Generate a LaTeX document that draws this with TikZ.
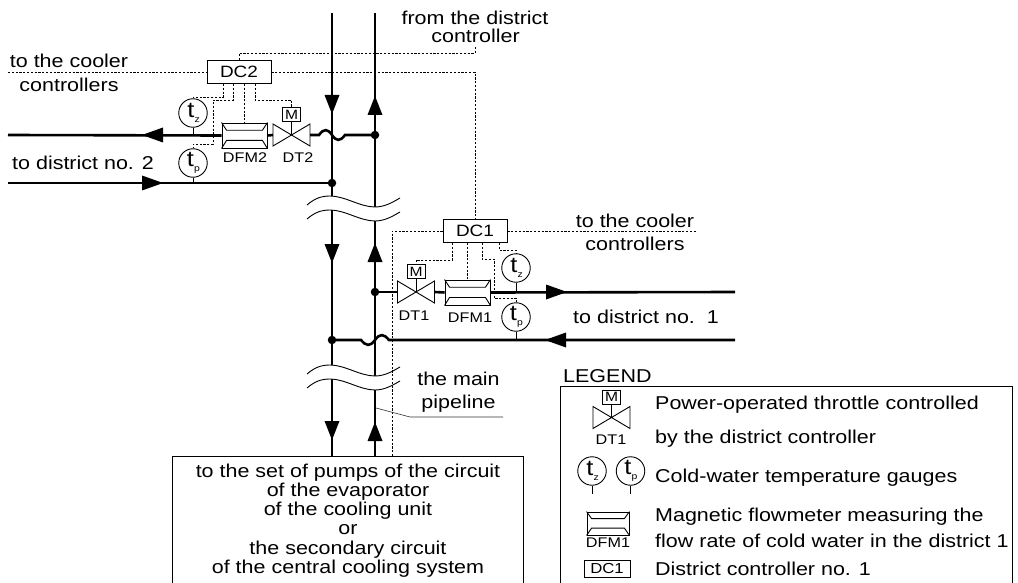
\documentclass[tikz,border=0pt]{standalone}
\usepackage{fontspec}
\setmainfont{Liberation Sans}[FakeStretch=1.155]
\newcommand{\tsub}[1]{\hspace*{1pt}t\kern0.2pt\raisebox{-4.5pt}{\fontsize{9}{9}\selectfont #1}}
\newcommand{\dvalve}[3]{%
  \coordinate (#1) at (#2,#3);
  \coordinate (#1-l) at (#2-18.5,#3);
  \coordinate (#1-r) at (#2+18.5,#3);
  \draw[thinl, fill=white] (#2-18.5,#3-11) -- (#2+18.5,#3+11) -- (#2+18.5,#3-11) -- (#2-18.5,#3+11) -- cycle;
  \node[mbox, anchor=south] (#1-M) at (#2,#3-13) {M};
  \draw[thinl] (#1-M.south) -- (#1);
}
\newcommand{\dfm}[7]{% name, cx, cy, w, h, inset top, inset bottom
  \node[draw, thinl, fill=white, minimum width=#4pt, minimum height=#5pt, inner sep=0pt] (#1) at (#2,#3) {};
  \draw[thinl] (#1.north west) -- ([xshift=5pt,yshift=-#6pt]#1.north west) -- ([xshift=-5pt,yshift=-#6pt]#1.north east) -- (#1.north east);
  \draw[thinl] (#1.south west) -- ([xshift=5pt,yshift=#7pt]#1.south west) -- ([xshift=-5pt,yshift=#7pt]#1.south east) -- (#1.south east);
}
\newcommand{\arrD}[2]{\fill (#1,#2) -- (#1-7.5,#2-19) -- (#1+7.5,#2-19) -- cycle;}
\newcommand{\arrU}[2]{\fill (#1,#2) -- (#1-7.5,#2+19) -- (#1+7.5,#2+19) -- cycle;}
\newcommand{\arrL}[2]{\fill (#1,#2) -- (#1+21,#2-7.5) -- (#1+21,#2+7.5) -- cycle;}
\newcommand{\arrR}[2]{\fill (#1,#2) -- (#1-21,#2-7.5) -- (#1-21,#2+7.5) -- cycle;}
\newcommand{\pipebreak}{%
  \fill[white] (307,205) .. controls (315,198) and (322,196) .. (330,196) .. controls (345,196) and (360,207) .. (375,207) .. controls (385,207) and (393,202) .. (400,198)
     -- (400,212) .. controls (393,216) and (385,221) .. (375,221) .. controls (360,221) and (345,210) .. (330,210) .. controls (322,210) and (315,212) .. (307,219) -- cycle;
  \draw[thinl] (307,205) .. controls (315,198) and (322,196) .. (330,196) .. controls (345,196) and (360,207) .. (375,207) .. controls (385,207) and (393,202) .. (400,198);
  \draw[thinl] (307,219) .. controls (315,212) and (322,210) .. (330,210) .. controls (345,210) and (360,221) .. (375,221) .. controls (385,221) and (393,216) .. (400,212);
}
\begin{document}
\begin{tikzpicture}[x=1pt,y=-1pt,
  pipe/.style={line width=2.6pt},
  thinl/.style={line width=0.9pt},
  ctrl/.style={line width=0.75pt, dash pattern=on 2.2pt off 1.6pt},
  gauge/.style={circle, draw, line width=0.9pt, minimum size=28.5pt, inner sep=0pt, fill=white, font=\fontsize{22}{22}\selectfont},
  dcbox/.style={draw, line width=0.9pt, fill=white, minimum width=64pt, minimum height=23pt, inner sep=0pt, font=\fontsize{16.4}{16.4}\selectfont},
  mbox/.style={draw, line width=0.9pt, fill=white, minimum width=18pt, minimum height=14pt, inner sep=0pt, font=\fontsize{13.5}{13.5}\selectfont},
  lbl/.style={font=\fontsize{18.6}{18.6}\selectfont, inner sep=0pt},
  tag/.style={font=\fontsize{14}{14}\selectfont, inner sep=0pt},
  dot/.style={circle, fill, inner sep=0pt, minimum size=8.5pt},
]
\useasboundingbox (0,0) rectangle (1018,583);

% main pipes
\coordinate (LT) at (332,13); \coordinate (LB) at (332,456);
\coordinate (RT) at (375,13); \coordinate (RB) at (375,456);
\draw[pipe] (LT) -- (LB);
\draw[pipe] (RT) -- (RB);

% breaks
\pipebreak
\begin{scope}[yshift=-169pt]\pipebreak\end{scope}

% flow arrows on main pipes
\arrD{332}{114} \arrD{332}{263} \arrD{332}{440}
\arrU{375}{96} \arrU{375}{243} \arrU{375}{422}

% junction and end coordinates
\coordinate (J2s) at (375,135);
\coordinate (J2r) at (332,183);
\coordinate (J1s) at (375,292);
\coordinate (J1r) at (332,340);
\coordinate (E2s) at (8,135);
\coordinate (E2r) at (8,183);
\coordinate (E1s) at (735,292);
\coordinate (E1r) at (735,340);

% controllers and dashed control lines
\node[dcbox] (DC2) at (239,72) {DC2};
\node[dcbox] (DC1) at (475,231) {DC1};
\coordinate (CL) at (8,72);
\coordinate (CR) at (697,231);
\coordinate (FD) at (475,47);
\coordinate (PB) at (392,456);
\draw[ctrl] (CL) -- (DC2.west);
\draw[ctrl] (DC2.east) -- (475,72) -- (DC1.north);
\draw[ctrl] (DC2.north) |- (475,53) -- (FD);
\draw[ctrl] (DC1.east) -- (CR);
\draw[ctrl] (DC1.west) -| (PB);

% district 2
\dvalve{DT2}{291.5}{135}
\dfm{DFM2}{244.5}{135.5}{45}{25}{7.7}{8}
\draw[pipe] (J2s) -- (345,135) .. controls (340,142) and (336,141) .. (332,135) .. controls (328,129) and (324,128) .. (319,135) -- (DT2-r);
\draw[pipe] (DT2-l) -- (DFM2.east);
\draw[pipe] (DFM2.west) -- (E2s);
\draw[pipe] (E2r) -- (J2r);
\arrL{142}{135}
\arrR{163}{183}
\node[dot] (dJ2s) at (J2s) {};
\node[dot] (dJ2r) at (J2r) {};
\node[gauge] (tz2) at (193,113) {\tsub{z}};
\node[gauge] (tp2) at (193,163) {\tsub{p}};
\draw[thinl] (tz2.south) -- (tz2.south |- E2s);
\draw[thinl] (tp2.south) -- (tp2.south |- E2r);
\draw[ctrl] ([xshift=-16pt]DC2.south) |- (193,97) -- (tz2.north);
\draw[ctrl] ([xshift=-6pt]DC2.south) |- (213,100) |- (193,144) -- (tp2.north);
\draw[ctrl] ([xshift=5.5pt]DC2.south) -- (DFM2.north);
\draw[ctrl] ([xshift=16pt]DC2.south) |- (291.5,100) -- (DT2-M.north);
\node[tag, anchor=base] (lDFM2) at (245,163) {DFM2};
\node[tag, anchor=base] (lDT2) at (298,163) {DT2};

% district 1
\dvalve{DT1}{416}{292}
\dfm{DFM1}{467.5}{292.5}{45}{25}{7.7}{8}
\draw[pipe] (J1s) -- (DT1-l);
\draw[pipe] (DT1-r) -- (DFM1.west);
\draw[pipe] (DFM1.east) -- (E1s);
\draw[pipe] (E1r) -- (389,340) .. controls (384,334) and (380,333) .. (375,340) .. controls (370,347) and (366,346) .. (361,340) -- (J1r);
\arrR{567}{292}
\arrL{545}{340}
\node[dot] (dJ1s) at (J1s) {};
\node[dot] (dJ1r) at (J1r) {};
\node[gauge] (tz1) at (516,268) {\tsub{z}};
\node[gauge] (tp1) at (516,317) {\tsub{p}};
\draw[thinl] (tz1.south) -- (tz1.south |- E1s);
\draw[thinl] (tp1.south) -- (tp1.south |- E1r);
\draw[ctrl] ([xshift=-23pt]DC1.south) |- (416,260) -- (DT1-M.north);
\draw[ctrl] ([xshift=-7.5pt]DC1.south) -- (DFM1.north);
\draw[ctrl] ([xshift=7pt]DC1.south) |- (494,259) |- (516,298) -- (tp1.north);
\draw[ctrl] ([xshift=24pt]DC1.south) |- (516,250) -- (tz1.north);
\node[tag, anchor=base] (lDT1) at (414,320) {DT1};
\node[tag, anchor=base] (lDFM1) at (470,322) {DFM1};

% texts
\node[lbl, anchor=base] (fd1) at (475,25) {from the district};
\node[lbl, anchor=base] (fd2) at (475.5,43) {controller};
\node[lbl, anchor=base] (cl1) at (69,68) {to the cooler};
\node[lbl, anchor=base] (cl2) at (69,92) {controllers};
\node[lbl, anchor=base west] (d2) at (12,170) {to district no. 2};
\node[lbl, anchor=base] (cr1) at (635,227) {to the cooler};
\node[lbl, anchor=base] (cr2) at (635,250) {controllers};
\node[lbl, anchor=base west] (d1) at (573,323) {to district no.\ \ 1};
\node[lbl, anchor=base] (mp1) at (458.5,385) {the main};
\node[lbl, anchor=base] (mp2) at (458.5,408) {pipeline};
\coordinate (MPa) at (376,408);
\coordinate (MPb) at (503,417);
\draw[line width=0.6pt, black!80] (MPa) -- (410,417) -- (MPb);

% bottom box
\draw[thinl] (172,590) -- (172,456) -- (523,456) -- (523,590);
\node[lbl, anchor=base] (b1) at (348,477) {to the set of pumps of the circuit};
\node[lbl, anchor=base] (b2) at (348,496.3) {of the evaporator};
\node[lbl, anchor=base] (b3) at (348,515.6) {of the cooling unit};
\node[lbl, anchor=base] (b4) at (348,534.9) {or};
\node[lbl, anchor=base] (b5) at (348,554.2) {the secondary circuit};
\node[lbl, anchor=base] (b6) at (348,573.5) {of the central cooling system};

% legend
\node[lbl, anchor=base west] (lg) at (563,382) {LEGEND};
\draw[thinl] (560,590) -- (560,386) -- (1012,386) -- (1012,590);
\dvalve{LDT}{611.5}{417.5}
\node[tag, anchor=base] (lLDT) at (611,444) {DT1};
\node[lbl, anchor=base west] (t1) at (655,409) {Power-operated throttle controlled};
\node[lbl, anchor=base west] (t2) at (655,443) {by the district controller};
\node[gauge] (Ltz) at (592,471) {\tsub{z}};
\node[gauge] (Ltp) at (630.5,471) {\tsub{p}};
\draw[thinl] (Ltz.south) -- ++(0,8.5);
\draw[thinl] (Ltp.south) -- ++(0,8.5);
\node[lbl, anchor=base west] (t3) at (655,482) {Cold-water temperature gauges};
\dfm{LDFM}{608}{523.5}{42}{23}{7}{7.3}
\node[tag, anchor=base] (lLDFM) at (608,547) {DFM1};
\node[lbl, anchor=base west] (t4) at (655,521) {Magnetic flowmeter measuring the};
\node[lbl, anchor=base west] (t5) at (655,547) {flow rate of cold water in the district 1};
\node[draw, thinl, minimum width=46pt, minimum height=17pt, inner sep=0pt, font=\fontsize{14.5}{14.5}\selectfont] (LDC) at (607,568.5) {DC1};
\node[lbl, anchor=base west] (t6) at (655,575) {District controller no. 1};
\end{tikzpicture}
\end{document}
